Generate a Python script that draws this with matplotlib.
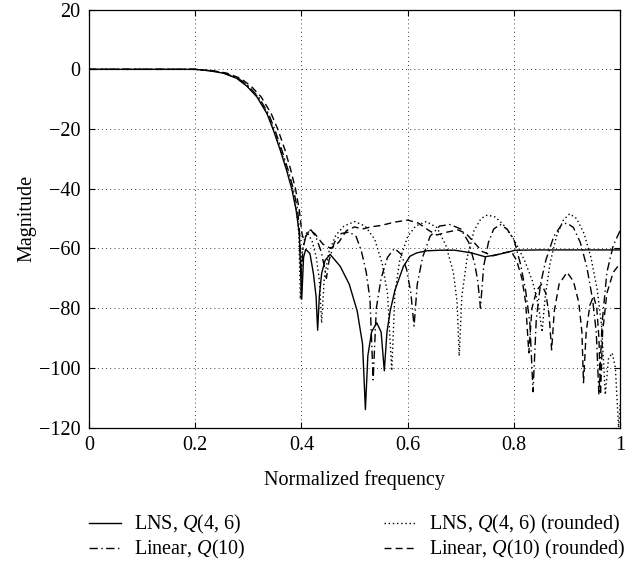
import matplotlib
matplotlib.use('Agg')
import matplotlib.pyplot as plt

plt.rcParams['font.family'] = ['Liberation Serif', 'DejaVu Serif']
plt.rcParams['mathtext.fontset'] = 'custom'
plt.rcParams['mathtext.rm'] = 'Liberation Serif'
plt.rcParams['mathtext.it'] = 'Liberation Serif:italic'

# LNS, Q(4,6)  (solid)
freq_lns = [0, 0.10, 0.20, 0.228, 0.253, 0.278, 0.297, 0.316, 0.335, 0.347, 0.360,
            0.372, 0.382, 0.390, 0.396, 0.4005, 0.404, 0.408, 0.416, 0.4225, 0.4275,
            0.4305, 0.4337, 0.438, 0.4445, 0.454, 0.473, 0.490, 0.505, 0.515, 0.5204,
            0.525, 0.532, 0.5417, 0.550, 0.556, 0.561, 0.567, 0.576, 0.592, 0.6045,
            0.617, 0.636, 0.661, 0.689, 0.720, 0.746, 0.771, 0.790, 0.802, 0.850, 1.0]
mag_lns = [0, 0, 0, -0.5, -1.3, -3.0, -5.6, -9.2, -14.8, -20.3, -27,
           -33.8, -40.2, -47.2, -55, -77, -63, -60.3, -61.7, -68.4, -76,
           -87.4, -76, -68.4, -64, -62, -66, -72, -81, -92, -114,
           -96, -88, -84.9, -88, -101, -88, -81, -74, -66, -62.6,
           -61.5, -60.8, -60.6, -60.6, -61.5, -62.8, -62, -61.2, -60.6, -60.5, -60.5]

# LNS, Q(4,6) rounded  (dotted)
freq_lns_r = [0, 0.10, 0.20, 0.230, 0.255, 0.280, 0.299, 0.318, 0.336, 0.348, 0.361,
              0.373, 0.383, 0.391, 0.395, 0.398, 0.401, 0.406, 0.412, 0.420, 0.428,
              0.434, 0.438, 0.443, 0.452, 0.465, 0.480, 0.500, 0.520, 0.538, 0.552,
              0.562, 0.570, 0.576, 0.585, 0.600, 0.615, 0.635, 0.655, 0.672, 0.686,
              0.693, 0.697, 0.702, 0.712, 0.725, 0.738, 0.750, 0.765, 0.780, 0.800,
              0.820, 0.835, 0.846, 0.853, 0.859, 0.868, 0.880, 0.893, 0.905, 0.918,
              0.932, 0.945, 0.957, 0.965, 0.972, 0.978, 0.985, 0.991, 0.997, 1.0]
mag_lns_r = [0, 0, 0, -0.5, -1.3, -3.0, -5.6, -9.2, -14.8, -20.3, -27,
             -33.8, -40.2, -47.2, -55, -77, -62, -56.5, -55, -57.5, -63,
             -71, -85, -70, -61, -55.5, -52.5, -51, -52.5, -57, -65,
             -75, -101, -75, -64, -56, -52.5, -51, -53, -59, -68,
             -78, -96, -76, -63, -54, -50, -48.8, -49.5, -52, -57,
             -64, -71, -79, -88, -76, -65, -56, -50.5, -48.4, -50,
             -55, -63, -74, -86, -109, -97, -95, -100, -120, -112]

# Linear, Q(10)  (dash-dot)
freq_lin = [0, 0.10, 0.20, 0.231, 0.256, 0.281, 0.300, 0.319, 0.338, 0.350, 0.363,
            0.375, 0.385, 0.393, 0.397, 0.3995, 0.403, 0.410, 0.418, 0.427, 0.437,
            0.443, 0.447, 0.452, 0.462, 0.475, 0.490, 0.503, 0.513, 0.522, 0.529,
            0.535, 0.541, 0.550, 0.562, 0.575, 0.588, 0.598, 0.606, 0.612, 0.618,
            0.628, 0.642, 0.660, 0.680, 0.700, 0.715, 0.726, 0.732, 0.737, 0.743,
            0.752, 0.762, 0.774, 0.787, 0.800, 0.812, 0.822, 0.830, 0.836, 0.842,
            0.850, 0.860, 0.875, 0.890, 0.900, 0.912, 0.925, 0.937, 0.948, 0.955,
            0.960, 0.966, 0.975, 0.987, 1.0]
mag_lin = [0, 0, 0, -0.5, -1.3, -3.0, -5.6, -9.2, -14.8, -20.3, -27,
           -33.8, -40.2, -47.2, -56, -70, -60, -54.5, -53.8, -56, -61,
           -66, -70, -64, -58, -55, -54.5, -56, -61, -68, -77,
           -104, -80, -70, -63, -60, -62, -67, -75, -86, -72,
           -63, -56, -52.5, -52, -53.5, -58, -65, -71, -80, -66,
           -58, -53.5, -52, -53.5, -57, -65, -74, -85, -108, -84,
           -72, -64, -56, -52, -51.5, -53, -58, -66, -77, -88,
           -109, -85, -68, -59, -54]

# Linear, Q(10) rounded  (dashed)
freq_lin_r = [0, 0.10, 0.20, 0.235, 0.260, 0.285, 0.305, 0.324, 0.343, 0.356, 0.369,
              0.380, 0.389, 0.396, 0.401, 0.404, 0.408, 0.415, 0.425, 0.440, 0.455,
              0.470, 0.485, 0.500, 0.515, 0.530, 0.550, 0.575, 0.600, 0.620, 0.640,
              0.655, 0.675, 0.695, 0.710, 0.725, 0.740, 0.760, 0.780, 0.795, 0.805,
              0.815, 0.822, 0.828, 0.834, 0.843, 0.852, 0.860, 0.866, 0.871, 0.876,
              0.885, 0.900, 0.912, 0.922, 0.928, 0.931, 0.936, 0.943, 0.950, 0.956,
              0.960, 0.963, 0.967, 0.975, 0.987, 1.0]
mag_lin_r = [0, 0, 0, -0.5, -1.3, -3.0, -5.6, -9.2, -14.8, -20.3, -27,
             -33.8, -40.2, -47.2, -55, -57, -56, -54, -55, -58.5, -60,
             -58, -54, -52.8, -53.5, -52.8, -52.3, -51.2, -50.5, -51.5, -54,
             -55.5, -54.5, -53.8, -55, -58, -61, -62.5, -61.5, -61, -64,
             -70, -78, -95, -80, -74, -72, -75, -82, -94, -81,
             -72, -68, -71, -78, -88, -105, -88, -79, -76, -80,
             -90, -109, -88, -75, -68, -65]

labels = [r'LNS, $Q$(4, 6)', r'Linear, $Q$(10)',
          r'LNS, $Q$(4, 6) (rounded)', r'Linear, $Q$(10) (rounded)']
xticks = [0, 0.2, 0.4, 0.6, 0.8, 1]
xticklabels = ['0', '0.2', '0.4', '0.6', '0.8', '1']
yticks = [-120, -100, -80, -60, -40, -20, 0, 20]

fs = 14.5
fig = plt.figure(figsize=(6.4, 5.67), dpi=100)
ax = fig.add_axes([0.139, 0.246, 0.830, 0.737])

lw = 1.0
h1, = ax.plot(freq_lns, mag_lns, color='black', lw=lw, linestyle='-')
h2, = ax.plot(freq_lin, mag_lin, color='black', lw=lw, linestyle=(0, (6, 2.5, 1, 2.5)))
h3, = ax.plot(freq_lns_r, mag_lns_r, color='black', lw=lw, linestyle=(0, (1, 2)))
h4, = ax.plot(freq_lin_r, mag_lin_r, color='black', lw=lw, linestyle=(0, (5, 3)))

ax.set_xlim(0, 1)
ax.set_ylim(-120, 20)
ax.set_xticks(xticks)
ax.set_xticklabels(xticklabels)
ax.set_yticks(yticks)
ax.grid(True, color='black', linestyle=(0, (1, 4)), linewidth=0.6)
ax.tick_params(direction='in', top=True, right=True, length=4, labelsize=fs, pad=6)
for s in ax.spines.values():
    s.set_linewidth(0.9)

ax.set_xlabel('Normalized frequency', fontsize=fs, labelpad=11)
ax.set_ylabel('Magnitude', fontsize=fs, labelpad=2)

fig.legend([h1, h2, h3, h4], labels, loc='lower left', bbox_to_anchor=(0.139, 0.010),
           ncol=2, frameon=False, fontsize=fs, handlelength=1.6, handletextpad=0.65,
           columnspacing=6.85, borderpad=0, borderaxespad=0, labelspacing=0.1)

fig.savefig('out.png', dpi=100)
